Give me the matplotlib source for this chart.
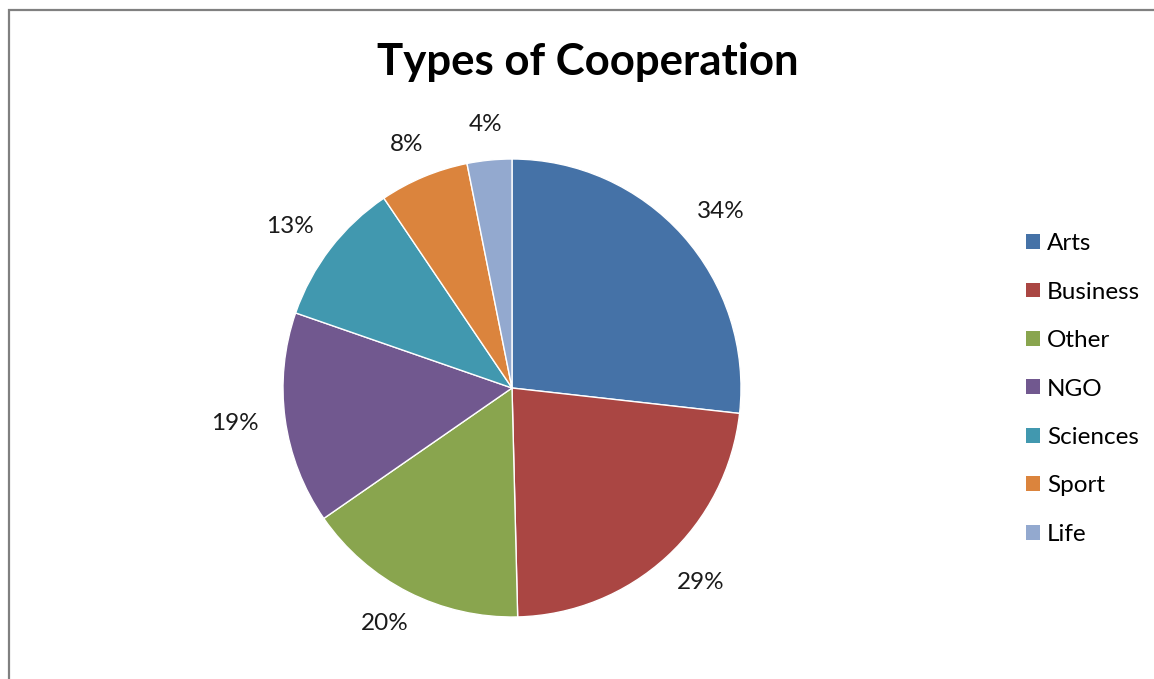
import matplotlib
matplotlib.use("Agg")
import matplotlib.pyplot as plt
import matplotlib.patches as mpatches
import numpy as np

categories = ["Arts", "Business", "Other", "NGO", "Sciences", "Sport", "Life"]
values = [34, 29, 20, 19, 13, 8, 4]
labels = ["34%", "29%", "20%", "19%", "13%", "8%", "4%"]
colors = ["#4572A7", "#AA4643", "#89A54E", "#71588F", "#4198AF", "#DB843D", "#93A9CF"]

plt.rcParams['font.family'] = ['Lato', 'DejaVu Sans']

W, H = 1154, 679
fig = plt.figure(figsize=(W / 100, H / 100), dpi=100)

# border (top and left visible)
fig.add_artist(mpatches.Rectangle((9 / W, -0.1), 1.2, (H - 10) / H + 0.1, transform=fig.transFigure,
                                  fill=False, edgecolor="#808080", linewidth=1.6))

cx, cy, R = 512, 388, 229
ax = fig.add_axes([(cx - R) / W, (H - cy - R) / H, 2 * R / W, 2 * R / H])
wedges, _ = ax.pie(values, colors=colors, startangle=90, counterclock=False, radius=1,
                   wedgeprops=dict(edgecolor="white", linewidth=1))
ax.set_xlim(-1, 1)
ax.set_ylim(-1, 1)
ax.set_axis_off()

renderer = fig.canvas.get_renderer()
gap = 27.0  # pixels between pie edge and label box
for w, lab in zip(wedges, labels):
    ang = np.deg2rad((w.theta1 + w.theta2) / 2)
    t = ax.text(0, 0, lab, ha="center", va="center", fontsize=17.5,
                color="#1a1a1a", clip_on=False)
    bb = t.get_window_extent(renderer)
    tw, th = bb.width, bb.height * 0.8
    px = np.cos(ang) * (R + gap) + np.cos(ang) * tw / 2
    py = np.sin(ang) * (R + gap) + np.sin(ang) * th / 2
    t.set_position((px / R, py / R))

fig.text(588 / W, 1 - 62 / H, "Types of Cooperation", ha="center", va="center",
         fontsize=31.5, fontweight="bold", color="black")

handles = [mpatches.Patch(facecolor=c, edgecolor="none") for c in colors]
fig.legend(handles, categories, loc="center left", bbox_to_anchor=(1026 / W, 1 - 389 / H),
           frameon=False, fontsize=17.5, handlelength=0.57, handleheight=0.57,
           handletextpad=0.3, labelspacing=1.13, borderaxespad=0, borderpad=0)

fig.savefig("out.png", dpi=100, facecolor="white")
